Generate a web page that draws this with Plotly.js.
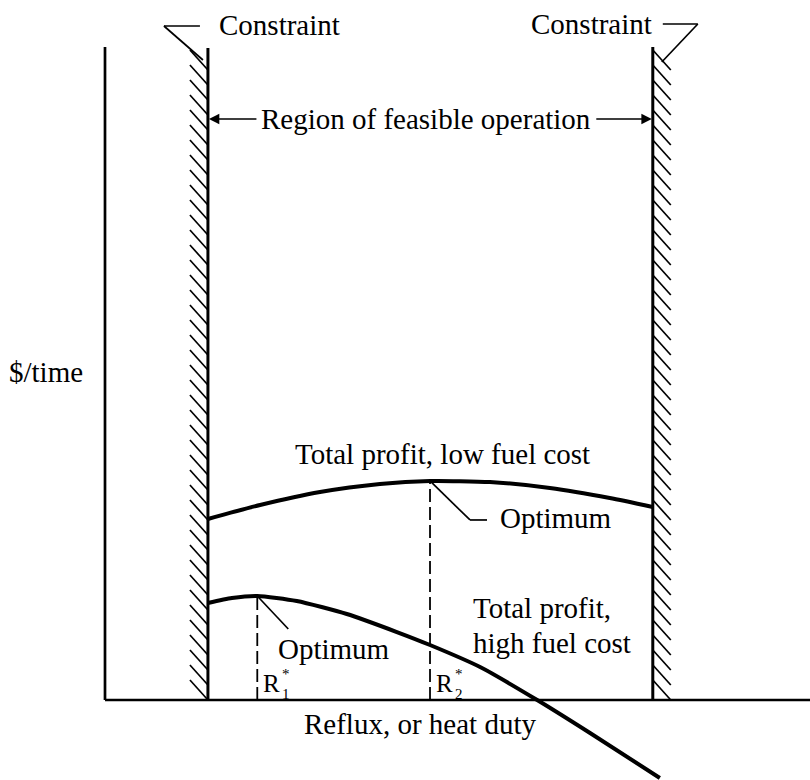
<!DOCTYPE html>
<html>
<head>
<meta charset="utf-8">
<script src="https://cdn.plot.ly/plotly-3.0.1.min.js"></script>
<style>html,body{margin:0;padding:0;background:#fff;}#chart{width:810px;height:780px;}</style>
</head>
<body>
<div id="chart"></div>
<script>
// ---- data (arbitrary units: reflux on x, $/time on y) ----
const refluxLow   = [1.46, 2.2, 3.05, 3.9, 4.61, 5.46, 6.31, 7.16, 7.77];
const profitLow   = [2.772, 2.986, 3.185, 3.308, 3.354, 3.338, 3.247, 3.093, 2.956];
const refluxHigh  = [1.46, 1.8, 2.16, 2.72, 3.43, 4.14, 4.61, 5.32, 6.13, 6.88, 7.87];
const profitHigh  = [1.485, 1.562, 1.593, 1.516, 1.317, 1.041, 0.842, 0.505, 0, -0.505, -1.194];
const constraintX = [1.46, 7.77];
const optimumX    = [2.16, 4.61];
const optimumY    = [1.593, 3.354];
const optimumSub  = ['1', '2'];
const axisMax     = [10, 10];

// ---- scale (pixels per unit), origin of axes at pixel (105,700) ----
const W = 810, H = 780;
const sx = 70.5, sy = 65.3, ox = 105, oy = 700;
const xr = [-ox / sx, (W - ox) / sx];
const yr = [-(H - oy) / sy, oy / sy];
const dx = p => p / sx, dy = p => p / sy;
const PX = p => p / W, PY = p => 1 - p / H;

const black = '#000';
const traces = [];

// hatching beside each constraint (decoration)
function hatch(xc, side) {
  const xs = [], ys = [];
  const step = 15, len = 18, drop = 20;
  for (let p = 50; p + drop <= oy + 1; p += step) {
    const yTop = (oy - p) / sy, yBot = (oy - p - drop) / sy;
    if (side < 0) { xs.push(xc - dx(len), xc, null); }
    else { xs.push(xc, xc + dx(len), null); }
    ys.push(yTop, yBot, null);
  }
  return {x: xs, y: ys, mode: 'lines', line: {color: black, width: 1.7}, hoverinfo: 'skip'};
}
traces.push(hatch(constraintX[0], -1));
traces.push(hatch(constraintX[1], 1));

// constraint walls
constraintX.forEach((c, i) => {
  traces.push({x: [c, c], y: [0, axisMax[1] - (i === 0 ? 0.015 : 0)], mode: 'lines',
    line: {color: black, width: 3}, hoverinfo: 'skip'});
});

// dashed optimum lines
optimumX.forEach((xo, i) => {
  traces.push({x: [xo, xo], y: [0, optimumY[i]], mode: 'lines',
    line: {color: black, width: 1.8, dash: '13px,5px'}, hoverinfo: 'skip'});
});

// profit curves
traces.push({x: refluxLow, y: profitLow, mode: 'lines',
  line: {color: black, width: 4, shape: 'spline', smoothing: 0.6}, hoverinfo: 'skip'});
traces.push({x: refluxHigh, y: profitHigh, mode: 'lines',
  line: {color: black, width: 4, shape: 'spline', smoothing: 0.6}, hoverinfo: 'skip'});

// axes + leader lines
const L = (x0, y0, x1, y1, w) => ({type: 'line', xref: 'x', yref: 'y', x0, y0, x1, y1,
  line: {color: black, width: w}});
const shapes = [
  L(0, 0, axisMax[0], 0, 2.7),
  L(0, 0, 0, axisMax[1], 2.7),
  // left constraint leader
  L(constraintX[0] - dx(8), yr[1] - dy(26), constraintX[0] - dx(44), yr[1] - dy(26), 1.7),
  L(constraintX[0] - dx(44), yr[1] - dy(26), constraintX[0] - dx(5), yr[1] - dy(60), 1.7),
  // right constraint leader
  L(constraintX[1] + dx(10), yr[1] - dy(24), constraintX[1] + dx(45), yr[1] - dy(24), 1.7),
  L(constraintX[1] + dx(45), yr[1] - dy(24), constraintX[1] + dx(9), yr[1] - dy(62), 1.7),
  // upper optimum leader
  L(optimumX[1], optimumY[1], optimumX[1] + dx(40), optimumY[1] - dy(39), 1.7),
  L(optimumX[1] + dx(40), optimumY[1] - dy(39), optimumX[1] + dx(57), optimumY[1] - dy(39), 1.7),
  // lower optimum leader
  L(optimumX[0], optimumY[0], optimumX[0] + dx(31), optimumY[0] - dy(33), 1.7)
];

const FONT = 'Liberation Serif, Times New Roman, serif';
const T = (text, px, py, size, xa) => ({text, xref: 'paper', yref: 'paper', x: PX(px), y: PY(py),
  xanchor: xa || 'center', yanchor: 'middle', showarrow: false,
  font: {family: FONT, size: size || 29, color: black}});

const annotations = [
  T('Constraint', 279, 25),
  T('Constraint', 591, 24),
  T('Region of feasible operation', 425.5, 119),
  T('$/time', 46, 372),
  T('Total profit, low fuel cost', 442, 454),
  T('Optimum', 498, 518, 29, 'left'),
  T('Optimum', 276, 649, 29, 'left'),
  T('Total profit,', 471, 608, 29, 'left'),
  T('high fuel cost', 471, 643, 29, 'left'),
  T('Reflux, or heat duty', 420, 724)
];
// R* labels under each optimum (R, then stacked * and subscript)
optimumX.forEach((xo, i) => {
  const p = ox + xo * sx;
  annotations.push(T('R', p + 4, 683, 25, 'left'));
  annotations.push(Object.assign(T('*<br>' + optimumSub[i], p + 23, 684, 15, 'left'), {align: 'left'}));
});
// arrows of the feasible region
annotations.push(
  {text: '', xref: 'x', yref: 'y', axref: 'x', ayref: 'y',
   x: constraintX[0] + dx(1), y: yr[1] - dy(119), ax: constraintX[0] + dx(50), ay: yr[1] - dy(119),
   showarrow: true, arrowhead: 2, arrowsize: 1.3, arrowwidth: 1.6, arrowcolor: black},
  {text: '', xref: 'x', yref: 'y', axref: 'x', ayref: 'y',
   x: constraintX[1] - dx(1), y: yr[1] - dy(119), ax: constraintX[1] - dx(58), ay: yr[1] - dy(119),
   showarrow: true, arrowhead: 2, arrowsize: 1.3, arrowwidth: 1.6, arrowcolor: black}
);

const layout = {
  width: W, height: H,
  margin: {l: 0, r: 0, t: 0, b: 0},
  paper_bgcolor: '#fff', plot_bgcolor: '#fff',
  showlegend: false,
  xaxis: {range: xr, visible: false, fixedrange: true},
  yaxis: {range: yr, visible: false, fixedrange: true},
  shapes, annotations, hovermode: false
};

Plotly.newPlot('chart', traces, layout, {staticPlot: true, displayModeBar: false});
</script>
</body>
</html>
